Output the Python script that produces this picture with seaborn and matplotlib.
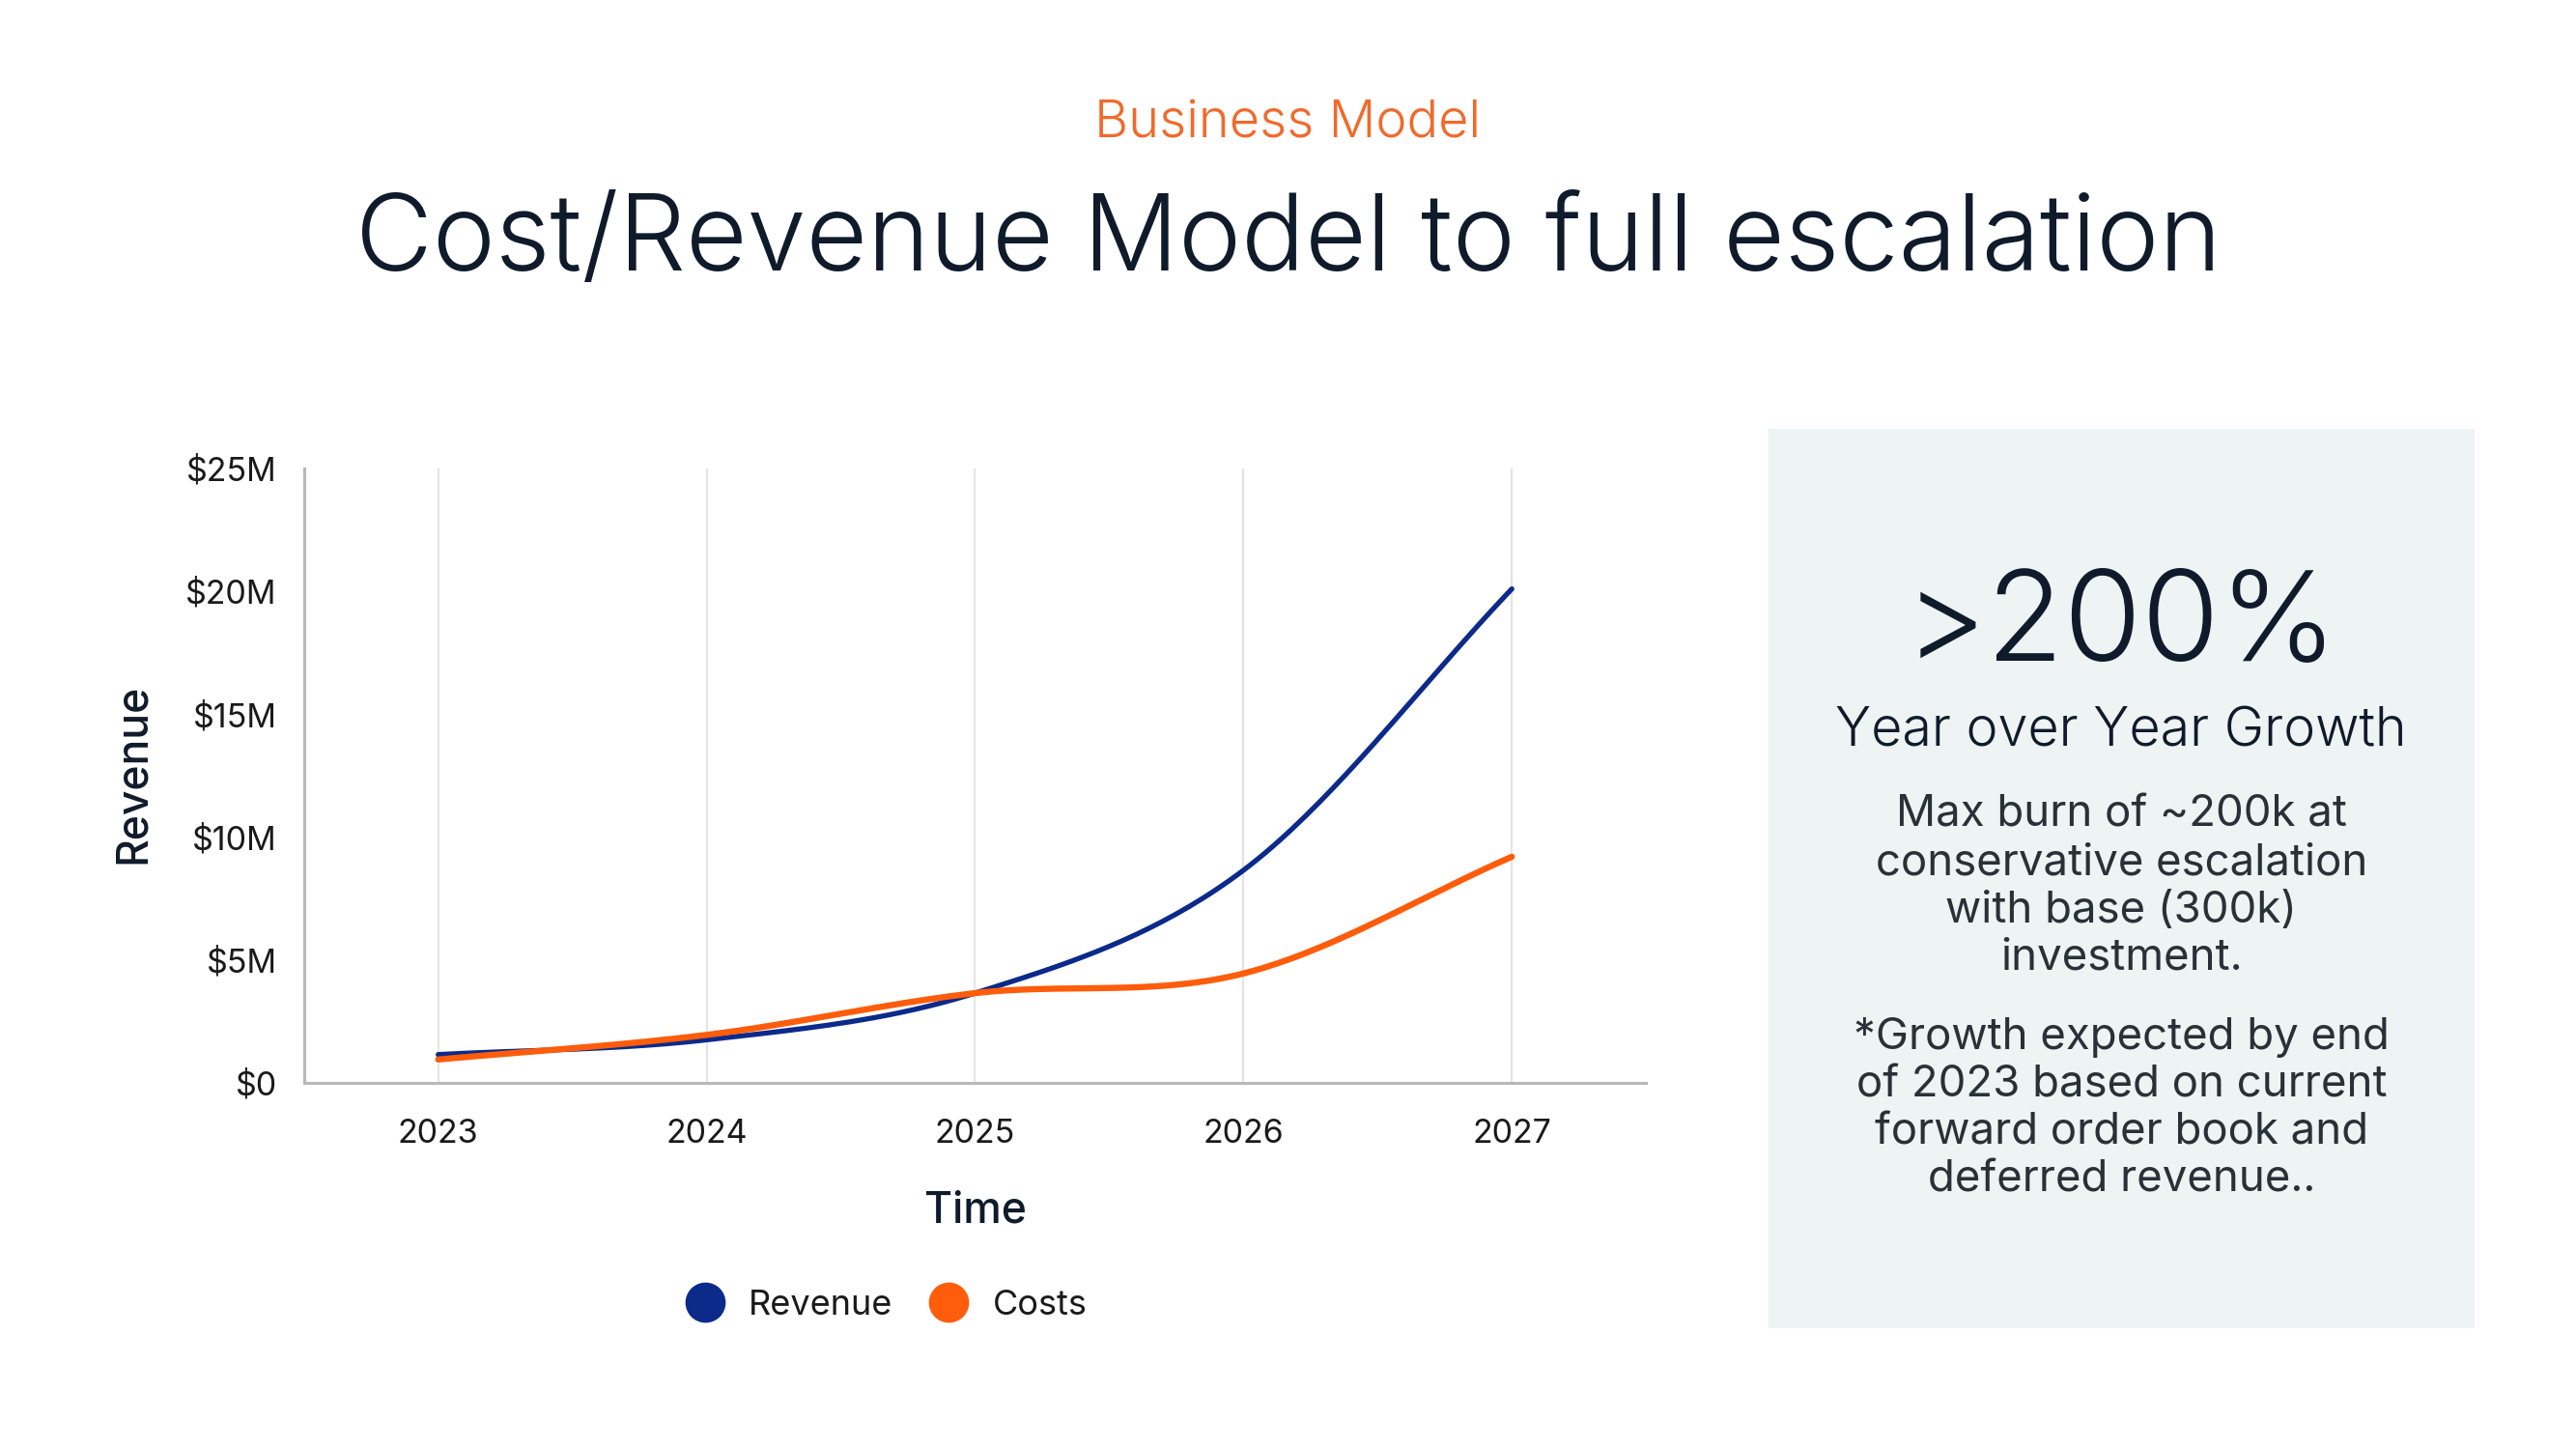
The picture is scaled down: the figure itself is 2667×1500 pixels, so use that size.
import numpy as np
import pandas as pd
import matplotlib
matplotlib.use("Agg")
import matplotlib.pyplot as plt
from matplotlib.lines import Line2D
from matplotlib.patches import Rectangle
from matplotlib.ticker import FuncFormatter
import seaborn as sns

# data (USD)
years = [2023, 2024, 2025, 2026, 2027]
revenue = [1.15e6, 1.75e6, 3.65e6, 8.65e6, 20.1e6]
costs = [0.95e6, 1.95e6, 3.65e6, 4.45e6, 9.2e6]
y_ticks = [0, 5e6, 10e6, 15e6, 20e6, 25e6]

kicker = "Business Model"
title = "Cost/Revenue Model to full escalation"
big_number = ">200%"
big_caption = "Year over Year Growth"
para1 = ["Max burn of ~200k at", "conservative escalation", "with base (300k)", "investment."]
para2 = ["*Growth expected by end", "of 2023 based on current", "forward order book and", "deferred revenue.."]

BLUE = "#0b2a8a"
ORANGE = "#ff5c0b"
KICKER = "#f2692a"
INK = "#0f1b2b"
FONT = "Inter"


def smooth(x, y, n=40):
    # cardinal (catmull-rom) curve through the points, like the "smooth line" chart option
    x = np.asarray(x, float)
    y = np.asarray(y, float)
    m = np.gradient(y, x)
    xs, ys = [], []
    for i in range(len(x) - 1):
        h = x[i + 1] - x[i]
        t = np.linspace(0, 1, n, endpoint=(i == len(x) - 2))
        h00 = 2 * t**3 - 3 * t**2 + 1
        h10 = t**3 - 2 * t**2 + t
        h01 = -2 * t**3 + 3 * t**2
        h11 = t**3 - t**2
        xs.append(x[i] + t * h)
        ys.append(h00 * y[i] + h10 * h * m[i] + h01 * y[i + 1] + h11 * h * m[i + 1])
    return np.concatenate(xs), np.concatenate(ys)


rx, ry = smooth(years, revenue)
cx, cy = smooth(years, costs)
rev_df = pd.DataFrame({"Time": rx, "Revenue": ry})
cost_df = pd.DataFrame({"Time": cx, "Revenue": cy})

sns.set_theme(style="white")
plt.rcParams["font.family"] = [FONT, "DejaVu Sans"]

fig = plt.figure(figsize=(26.67, 15), dpi=100)
ax = fig.add_axes([0.118, 0.2527, 0.521, 0.424])

sns.lineplot(data=rev_df, x="Time", y="Revenue", color=BLUE, linewidth=3.8,
             estimator=None, sort=False, ax=ax)
sns.lineplot(data=cost_df, x="Time", y="Revenue", color=ORANGE, linewidth=4.6,
             estimator=None, sort=False, ax=ax)

ax.set_xlim(2022.5, 2027.5)
ax.set_ylim(0, 25e6)
ax.set_xticks(years)
ax.set_xticklabels([str(y) for y in years])
ax.set_yticks(y_ticks)
ax.yaxis.set_major_formatter(FuncFormatter(lambda v, p: "$0" if v == 0 else f"${v / 1e6:.0f}M"))
ax.tick_params(axis="both", length=0, labelsize=24.5, labelcolor="#1a1a1a")
ax.tick_params(axis="x", pad=27)
ax.tick_params(axis="y", pad=20)

ax.grid(axis="x", color="#e4e4e4", linewidth=1.5)
ax.grid(axis="y", visible=False)
sns.despine(ax=ax)
for s in ("left", "bottom"):
    ax.spines[s].set_color("#b8b8b8")
    ax.spines[s].set_linewidth(2.2)

ax.set_xlabel("Time", fontsize=32, fontweight=500, color=INK)
ax.set_ylabel("Revenue", fontsize=32, fontweight=500, color=INK)
ax.xaxis.set_label_coords(0.5, -0.176)
ax.yaxis.set_label_coords(-0.112, 0.503)

handles = [
    Line2D([], [], marker="o", linestyle="", markersize=29, color=BLUE),
    Line2D([], [], marker="o", linestyle="", markersize=29, color=ORANGE),
]
fig.legend(handles, ["Revenue", "Costs"], loc="center", bbox_to_anchor=(0.3445, 0.099),
           ncol=2, frameon=False, fontsize=26, handletextpad=0.75, columnspacing=1.1,
           handlelength=1.0, labelcolor="#1a1a1a")

# heading
fig.text(0.5, 0.905, kicker, ha="center", va="baseline", fontsize=39, fontweight=300, color=KICKER)
fig.text(0.5, 0.813, title, ha="center", va="baseline", fontsize=79, fontweight=300, color=INK)

# side panel
fig.patches.append(Rectangle((0.6865, 0.0833), 0.274, 0.6207, transform=fig.transFigure,
                             facecolor="#eef3f3", edgecolor="none", zorder=0))
cx_panel = 0.8235
fig.text(cx_panel, 0.544, big_number, ha="center", va="baseline", fontsize=94, fontweight=300, color=INK)
fig.text(cx_panel, 0.485, big_caption, ha="center", va="baseline", fontsize=40, fontweight=300, color=INK)
step = 49.3 / 1500
for i, line in enumerate(para1):
    fig.text(cx_panel, 1 - 856 / 1500 - i * step, line, ha="center", va="baseline",
             fontsize=32.8, fontweight=400, color="#2a3038")
for i, line in enumerate(para2):
    fig.text(cx_panel, 1 - 1086 / 1500 - i * step, line, ha="center", va="baseline",
             fontsize=32.8, fontweight=400, color="#2a3038")

fig.savefig("out.png", dpi=100, facecolor="white")
